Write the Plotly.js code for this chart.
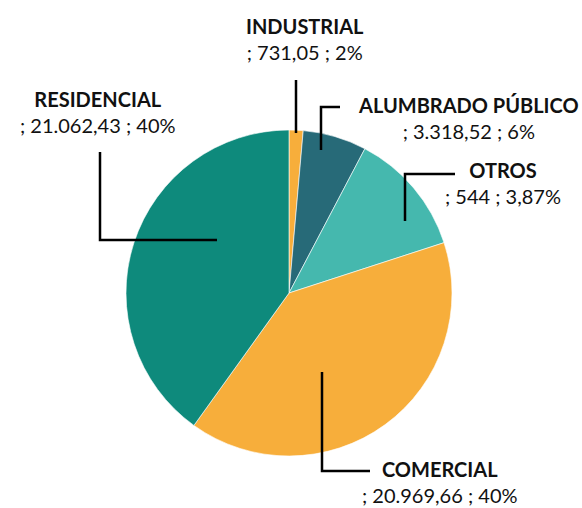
<!DOCTYPE html>
<html><head><meta charset="utf-8">
<script src="https://cdn.plot.ly/plotly-3.0.1.min.js"></script>
<style>html,body{margin:0;padding:0;background:#fff}#chart{width:582px;height:508px}</style>
</head><body><div id="chart"></div>
<script>
const categories = ['INDUSTRIAL', 'ALUMBRADO PÚBLICO', 'OTROS', 'COMERCIAL', 'RESIDENCIAL'];
const sliceValues = [731.05, 3318.52, 6460, 20969.66, 21062.43];
const labelValues = ['731,05', '3.318,52', '544', '20.969,66', '21.062,43'];
const labelPcts = ['2%', '6%', '3,87%', '40%', '40%'];
const colors = ['#F7AE3B', '#276A78', '#45B8AE', '#F7AE3B', '#0E8A7C'];

const W = 582, H = 508;
const px = x => x / W, py = y => 1 - y / H;

// label placements (pixel centres) and leader lines (pixel polylines)
const labelPos = [[305, 39], [468, 118], [503, 183], [440, 482], [98, 112]];
const leaders = [
  [[296, 80], [296, 133]],
  [[340, 107], [321, 107], [321, 150]],
  [[405, 221], [405, 174], [455, 174]],
  [[322, 372], [322, 471], [370, 471]],
  [[100, 152], [100, 240], [217, 240]]
];

const shapes = leaders.map(pts => ({
  type: 'path', xref: 'paper', yref: 'paper',
  path: pts.map((p, i) => (i ? 'L' : 'M') + px(p[0]) + ',' + py(p[1])).join(' '),
  line: {color: '#000', width: 2.5}
}));

const annotations = categories.map((c, i) => ({
  xref: 'paper', yref: 'paper', x: px(labelPos[i][0]), y: py(labelPos[i][1]),
  xanchor: 'center', yanchor: 'middle', showarrow: false, align: 'center',
  text: '<b>' + c + '</b><br>; ' + labelValues[i] + ' ; ' + labelPcts[i],
  font: {family: 'Lato, "Open Sans", sans-serif', size: 20, color: '#111'}
}));

Plotly.newPlot('chart', [{
  type: 'pie', labels: categories, values: sliceValues, sort: false,
  direction: 'clockwise', rotation: 0, textinfo: 'none', hoverinfo: 'label+value',
  marker: {colors: colors, line: {color: '#ffffff', width: 0.6}},
  domain: {x: [126 / W, 452 / W], y: [1 - 456 / H, 1 - 130 / H]}
}], {
  width: W, height: H, showlegend: false,
  margin: {l: 0, r: 0, t: 0, b: 0},
  paper_bgcolor: '#fff', shapes: shapes, annotations: annotations
}, {displayModeBar: false, staticPlot: true});
</script></body></html>
